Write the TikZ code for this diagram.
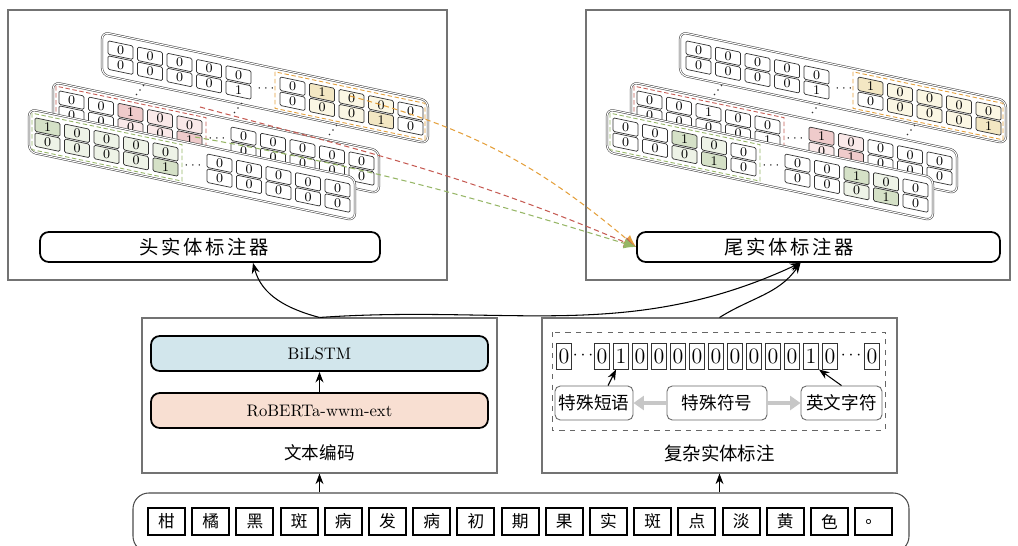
\documentclass[tikz,border=0pt]{standalone}
\usepackage{fontspec}
\newfontfamily\cjk{Noto Sans CJK SC}
\newfontfamily\cjkwide{Noto Sans CJK SC}[LetterSpace=14]
\usetikzlibrary{arrows.meta,calc}

\definecolor{gD}{RGB}{213,225,199}
\definecolor{gL}{RGB}{238,243,231}
\definecolor{rD}{RGB}{239,203,203}
\definecolor{rL}{RGB}{250,233,233}
\definecolor{yD}{RGB}{243,231,195}
\definecolor{yL}{RGB}{251,247,228}
\definecolor{w}{RGB}{255,255,255}
\definecolor{oLine}{RGB}{228,160,60}
\definecolor{rLine}{RGB}{198,92,84}
\definecolor{gLine}{RGB}{150,182,102}
\definecolor{encBlue}{RGB}{210,230,236}
\definecolor{encPeach}{RGB}{248,223,210}

\newcommand{\pxl}{0.02cm}

% one slab of a tag matrix: name, corner, row 1, row 2, left edge of dashed box, its colour
\newcommand{\slab}[6]{%
  \begin{scope}[shift={#2}, yslant=-0.21]
    \draw[slabline] (0,0) rectangle (326,43);
    \foreach \d/\f [count=\c from 0] in {#3}{
      \pgfmathsetmacro{\cu}{\c<5 ? 6+29.5*\c : 178+29.5*(\c-5)}
      \draw[cellline, fill=\f] (\cu,7.5) rectangle ++(25,13.5);
      \node[digit] (#1-1-\c) at (\cu+12.5,14.25) {\d};
    }
    \foreach \d/\f [count=\c from 0] in {#4}{
      \pgfmathsetmacro{\cu}{\c<5 ? 6+29.5*\c : 178+29.5*(\c-5)}
      \draw[cellline, fill=\f] (\cu,22.5) rectangle ++(25,13.5);
      \node[digit] (#1-2-\c) at (\cu+12.5,29.25) {\d};
    }
    \node[digit] (#1-gap) at (164,22) {$\cdots$};
    \draw[region, draw=#6] (#5,3.5) rectangle ++(150,36.5);
  \end{scope}}

% three dots between two slabs
\newcommand{\slabdots}[1]{%
  \foreach \k in {-1,0,1} \fill[black!80, shift={#1}] (3.5*\k,-4.5*\k) circle (0.45pt);}

\begin{document}
\begin{tikzpicture}[x=0.02cm, y=-0.02cm,
  panel/.style={draw=black!55, line width=0.6pt, inner sep=0pt},
  slabline/.style={draw=black!75, line width=0.3pt, double=white, double distance=0.6pt, fill=white, rounded corners=4pt},
  cellline/.style={draw=black!80, line width=0.4pt, rounded corners=0.8pt},
  digit/.style={inner sep=0pt, font=\fontsize{7.5}{7.5}\selectfont},
  region/.style={dashed, dash pattern=on 2.5pt off 1.5pt, line width=0.5pt},
  tagger/.style={draw, line width=1pt, rounded corners=5pt, inner sep=0pt},
  taggertext/.style={font=\cjkwide\fontsize{11}{11}\selectfont},
  encbox/.style={draw, line width=1pt, rounded corners=5pt, inner sep=0pt, minimum width=337*\pxl, minimum height=35*\pxl, font=\fontsize{9.5}{9.5}\selectfont},
  token/.style={draw, line width=1.1pt, inner sep=0pt, minimum width=37*\pxl, minimum height=27*\pxl, font=\cjk\fontsize{9.5}{9.5}\selectfont},
  bitbox/.style={draw=black!80, line width=0.5pt, inner sep=0pt, minimum width=15*\pxl, minimum height=26*\pxl, font=\fontsize{12.5}{12.5}\selectfont},
  cue/.style={draw=black!60, line width=0.5pt, rounded corners=3pt, inner sep=0pt, minimum height=34*\pxl, font=\cjk\fontsize{10}{10}\selectfont},
  cjktext/.style={font=\cjk\fontsize{#1}{#1}\selectfont},
  arr/.style={-{Stealth[length=6pt,width=4.5pt]}, line width=0.6pt},
  tagarrow/.style={dashed, dash pattern=on 3pt off 2pt, line width=0.6pt, -{Latex[length=7pt,width=6pt]}},
  fat/.style={draw=black!22, line width=2.6pt, -{Triangle[length=6pt,width=8pt]}}]
\useasboundingbox (0,0) rectangle (1018,545);

% head entity tagger
\node[panel, minimum width=439*\pxl, minimum height=270*\pxl] (headpanel) at (227.5,145) {};
\slab{Lt}{(102,32)}{0/w,0/w,0/w,0/w,0/w,0/w,1/yD,0/yL,0/yL,0/w}{0/w,0/w,0/w,0/w,1/w,0/w,0/yL,0/yL,1/yD,0/w}{173}{oLine}
\slab{Lm}{(53,82)}{0/w,0/w,1/rD,0/rL,0/rL,0/w,0/w,0/w,0/w,0/w}{0/w,0/w,0/rL,0/rL,1/rD,0/w,0/w,0/w,0/w,0/w}{3}{rLine}
\slab{Lf}{(29,109)}{1/gD,0/gL,0/gL,0/gL,0/gL,0/w,0/w,0/w,0/w,0/w}{0/gL,0/gL,0/gL,0/gL,1/gD,0/w,0/w,0/w,0/w,0/w}{3}{gLine}
\slabdots{(140,90)} \slabdots{(238,108)} \slabdots{(333,130)}
\node[tagger, minimum width=340*\pxl, minimum height=30*\pxl] (headtag) at (210,247) {};
\node[taggertext] (headtxt) at (204,247) {头实体标注器};
\coordinate (ostart) at (350,96);
\coordinate (rstart) at (200,107);
\coordinate (gstart) at (195,137);

% tail entity tagger
\node[panel, minimum width=424*\pxl, minimum height=270*\pxl] (tailpanel) at (798,145) {};
\slab{Rt}{(680,32)}{0/w,0/w,0/w,0/w,0/w,1/yD,0/yL,0/yL,0/yL,0/yL}{0/w,0/w,0/w,0/w,1/w,0/w,0/yL,0/yL,0/yL,1/yD}{173}{oLine}
\slab{Rm}{(631,82)}{0/w,0/w,1/w,0/w,0/w,1/rD,0/rL,0/w,0/w,0/w}{0/w,0/w,0/w,0/w,1/w,0/rL,1/rD,0/w,0/w,0/w}{3}{rLine}
\slab{Rf}{(607,109)}{0/w,0/w,1/gD,0/gL,0/w,0/w,0/w,1/gD,0/gL,0/w}{0/w,0/w,0/gL,1/gD,0/w,0/w,0/w,0/gL,1/gD,0/w}{3}{gLine}
\slabdots{(718,90)} \slabdots{(816,108)} \slabdots{(911,130)}
\node[tagger, minimum width=363*\pxl, minimum height=30*\pxl] (tailtag) at (818.5,247) {};
\node[taggertext] (tailtxt) at (789,247) {尾实体标注器};

% text encoding
\node[panel, minimum width=355*\pxl, minimum height=155*\pxl] (encpanel) at (319.5,395.5) {};
\node[encbox, fill=encBlue] (bilstm) at (319.5,353.5) {BiLSTM};
\node[encbox, fill=encPeach] (roberta) at (319.5,410.5) {RoBERTa-wwm-ext};
\node[cjktext=10] (enctxt) at (319.5,453) {文本编码};
\draw[arr] (roberta) -- (bilstm);

% complex entity annotation
\node[panel, minimum width=355*\pxl, minimum height=155*\pxl] (annpanel) at (719.5,395.5) {};
\draw[dashed, draw=black!60, line width=0.5pt] (552,332) rectangle (885,430);
\foreach \x/\b [count=\i] in {564/0,602/0,621/1,640/0,659/0,678/0,697/0,716/0,735/0,754/0,773/0,792/0,811/1,830/0,872/0}
  \node[bitbox] (bit\i) at (\x,356) {\b};
\node[inner sep=0pt] (gapA) at (583,356) {$\cdots$};
\node[inner sep=0pt] (gapB) at (851,356) {$\cdots$};
\node[cue, minimum width=78*\pxl] (phrase) at (594,403) {特殊短语};
\node[cue, minimum width=100*\pxl] (symbol) at (717,403) {特殊符号};
\node[cue, minimum width=81*\pxl] (english) at (841.5,403) {英文字符};
\node[cjktext=10.5] (anntxt) at (719.5,453) {复杂实体标注};
\draw[fat] (symbol) -- (phrase);
\draw[fat] (symbol) -- (english);
\draw[arr] ([xshift=14*\pxl]phrase.north) -- ([xshift=3*\pxl]bit3.south west);
\draw[arr] (english.north) -- (bit13.south east);

% input sentence
\node[draw=black!70, line width=0.6pt, rounded corners=9pt, inner sep=0pt, minimum width=776*\pxl, minimum height=59*\pxl] (sentence) at (521,522.5) {};
\foreach \t [count=\i from 0] in {柑,橘,黑,斑,病,发,病,初,期,果,实,斑,点,淡,黄,色,。}
  \node[token] (tok\i) at (166.5+44.2*\i,521.5) {\t};

% connections
\draw[arr] (sentence.north -| encpanel.south) -- (encpanel.south);
\draw[arr] (sentence.north -| annpanel.south) -- (annpanel.south);
\draw[arr] (encpanel.north) to[out=165,in=-75] ([xshift=43*\pxl]headtag.south);
\draw[arr] (encpanel.north) to[out=4,in=-155] ([xshift=-18*\pxl]tailtag.south);
\draw[arr] (annpanel.north) to[out=32,in=-125] ([xshift=-18*\pxl]tailtag.south);
\draw[tagarrow, oLine] (ostart) to[out=-15,in=140] (tailtag.west);
\draw[tagarrow, rLine] (rstart) to[out=-15,in=157] (tailtag.west);
\draw[tagarrow, gLine] (gstart) to[out=-10,in=163] (tailtag.west);
\end{tikzpicture}
\end{document}
